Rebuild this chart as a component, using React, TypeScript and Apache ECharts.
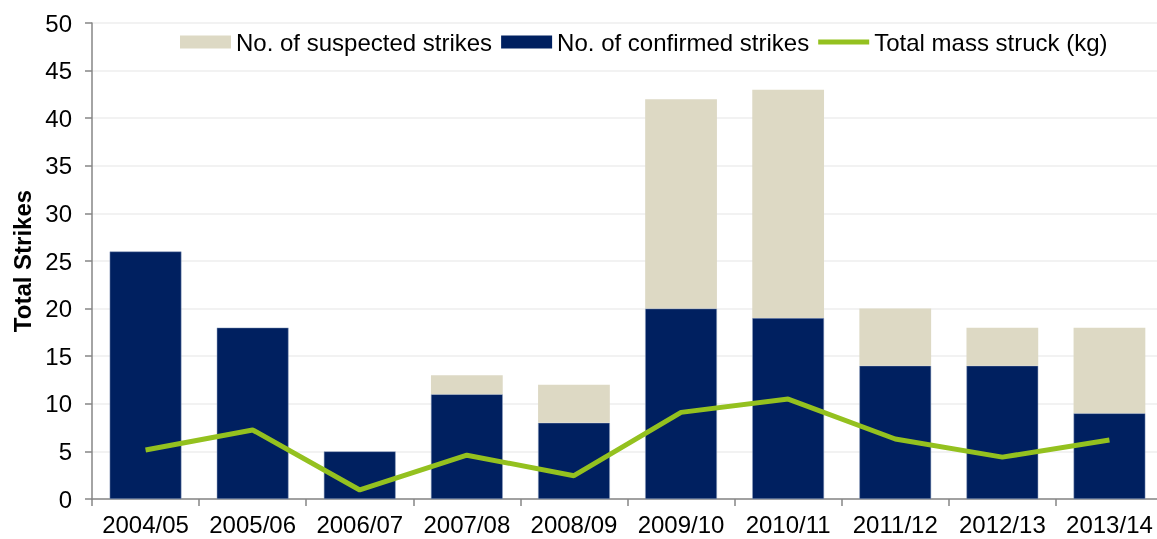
import React, { useEffect, useRef } from "react";
import * as echarts from "echarts";

const categories = ["2004/05", "2005/06", "2006/07", "2007/08", "2008/09", "2009/10", "2010/11", "2011/12", "2012/13", "2013/14"];
const confirmed = [26, 18, 5, 11, 8, 20, 19, 14, 14, 9];
const suspected = [0, 0, 0, 2, 4, 22, 24, 6, 4, 9];
const massKg = [5.15, 7.25, 0.95, 4.6, 2.45, 9.1, 10.5, 6.3, 4.4, 6.2];
const yTicks = { min: 0, max: 50, interval: 5 };

const FONT = "Liberation Sans, Arial, sans-serif";

export default function App() {
  const ref = useRef<HTMLDivElement>(null);
  useEffect(() => {
    if (!ref.current) return;
    const chart = echarts.init(ref.current, undefined, { renderer: "svg" });
    chart.setOption({
      animation: false,
      textStyle: { fontFamily: FONT },
      grid: { left: 92, right: 0, top: 23, bottom: 40, containLabel: false },
      legend: {
        left: 175,
        top: 25,
        itemWidth: 51,
        itemHeight: 13,
        itemGap: 9,
        symbolKeepAspect: true,
        textStyle: { fontFamily: FONT, fontSize: 24, color: "#000" },
        data: [
          { name: "No. of suspected strikes", icon: "rect" },
          { name: "No. of confirmed strikes", icon: "rect", itemStyle: { borderWidth: 0 } },
          { name: "Total mass struck (kg)", icon: "path://M0,0 L51,0 L51,5 L0,5 Z", itemStyle: { color: "#94C11F" } },
        ],
      },
      xAxis: {
        type: "category",
        data: categories,
        axisLine: { lineStyle: { color: "#868686", width: 1.5 } },
        axisTick: { show: true, length: 7, alignWithLabel: false, lineStyle: { color: "#868686", width: 1.5 } },
        axisLabel: { color: "#000", fontSize: 24, fontFamily: FONT, margin: 13, interval: 0 },
      },
      yAxis: {
        type: "value",
        min: yTicks.min,
        max: yTicks.max,
        interval: yTicks.interval,
        name: "Total Strikes",
        nameLocation: "middle",
        nameGap: 58,
        nameTextStyle: { fontFamily: FONT, fontSize: 24, fontWeight: "bold", color: "#000" },
        axisLine: { show: true, lineStyle: { color: "#868686", width: 1.5 } },
        axisTick: { show: true, length: 7, lineStyle: { color: "#868686", width: 1.5 } },
        axisLabel: { color: "#000", fontSize: 24, fontFamily: FONT, margin: 20 },
        splitLine: { show: true, lineStyle: { color: "#EEEEEE", width: 1.5 } },
      },
      series: [
        {
          name: "No. of confirmed strikes",
          type: "bar",
          stack: "strikes",
          data: confirmed,
          barCategoryGap: "33%",
          itemStyle: { color: "#002060", borderColor: "#8EA0BE", borderWidth: 0.5 },
        },
        {
          name: "No. of suspected strikes",
          type: "bar",
          stack: "strikes",
          data: suspected.map((v) => (v === 0 ? "-" : v)),
          barCategoryGap: "33%",
          itemStyle: { color: "#DDD9C4" },
        },
        {
          name: "Total mass struck (kg)",
          type: "line",
          data: massKg,
          symbol: "none",
          lineStyle: { color: "#94C11F", width: 5 },
          itemStyle: { color: "#94C11F" },
          z: 5,
        },
      ],
    });
    return () => chart.dispose();
  }, []);
  return <div ref={ref} style={{ position: "fixed", left: 0, top: 0, width: 1163, height: 539 }} />;
}
